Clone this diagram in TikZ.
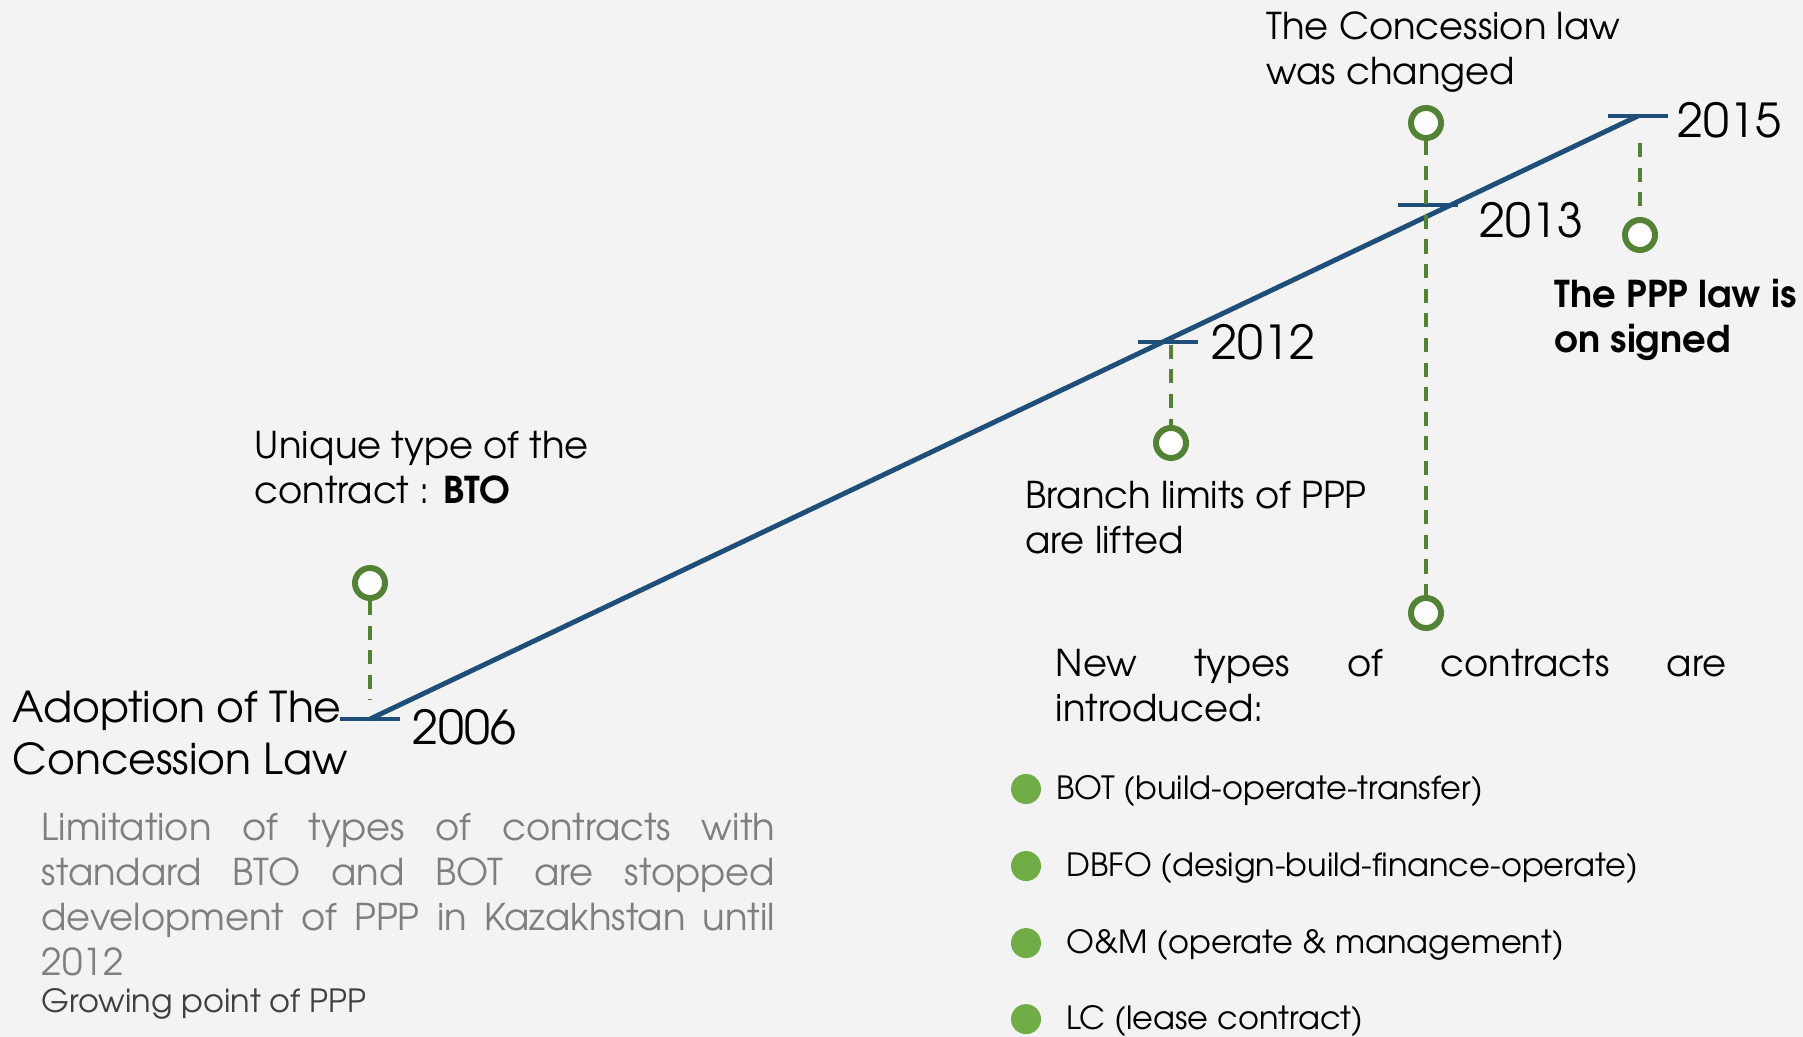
\documentclass[tikz,border=0pt]{standalone}
\usepackage{fontspec}
\setmainfont{TeX Gyre Adventor}
\usetikzlibrary{positioning}

\definecolor{paper}{HTML}{F3F3F3}
\definecolor{lineblue}{HTML}{1F4E79}
\definecolor{ringgreen}{HTML}{548235}
\definecolor{dotgreen}{HTML}{70AD47}
\definecolor{softgray}{HTML}{7F7F7F}
\definecolor{deepgray}{HTML}{404040}

\tikzset{
  ring/.style={circle, draw=ringgreen, line width=1.7pt, fill=white,
    minimum size=0.30cm, inner sep=0pt},
  dot/.style={circle, fill=dotgreen, minimum size=0.3cm, inner sep=0pt},
  lead/.style={ringgreen, line width=1.1pt, dash pattern=on 4pt off 3pt},
  tickmark/.style={rectangle, fill=lineblue, minimum width=0.6cm,
    minimum height=1.2pt, inner sep=0pt},
  year/.style={inner sep=0pt, font=\fontsize{13.3}{15}\selectfont},
  note/.style={inner sep=0pt, align=left, anchor=west,
    font=\fontsize{10.5}{12.8}\selectfont},
  item/.style={inner sep=0pt, font=\fontsize{9.1}{10}\selectfont},
}

\begin{document}
\begin{tikzpicture}[x=0.01cm, y=-0.01cm]
  \fill[paper] (0,0) rectangle (1803,1037);
  \useasboundingbox (0,0) rectangle (1803,1037);

  % milestones on the time line
  \coordinate (y2006) at (370,719);
  \coordinate (y2015) at (1638,116);
  \node[tickmark] (k2006) at (y2006) {};
  \node[tickmark] (k2012) at (1168,342) {};
  \node[tickmark] (k2013) at (1428,205) {};
  \node[tickmark] (k2015) at (y2015) {};

  \node[year, right=0.11cm of k2006, yshift=-0.08cm] (t2006) {2006};
  \node[year, right=0.12cm of k2012] (t2012) {2012};
  \node[year, right=0.2cm of k2013, yshift=-0.15cm] (t2013) {2013};
  \node[year, right=0.08cm of k2015, yshift=-0.04cm] (t2015) {2015};

  % rings and their dashed leads
  \node[ring] (r2006) at (370,583) {};
  \node[ring] (r2012) at (1171,443) {};
  \node[ring] (r2013a) at (1426,123) {};
  \node[ring] (r2013b) at (1426,613) {};
  \node[ring] (r2015) at (1640,235) {};
  \coordinate (c2006) at (370,700);
  \coordinate (c2015) at (1640,143);

  \draw[lineblue, line width=1.4pt] (y2006) -- (y2015);

  \draw[lead] (r2006) -- (c2006);
  \draw[lead] (k2012.south -| r2012) -- (r2012);
  \draw[lead] (r2013a) -- (r2013b);
  \draw[lead] (c2015) -- (r2015);

  % texts
  \node[note, font=\fontsize{12.1}{14.8}\selectfont] (adopt) at (12,733)
    {Adoption of The\\Concession Law};
  \node[note] (unique) at (254,468) {Unique type of the\\contract : \textbf{BTO}};
  \node[note, softgray, text width=7.33cm, align=justify] (limits) at (41,895)
    {Limitation of types of contracts with\linebreak standard BTO and BOT are
     stopped\linebreak development of PPP in Kazakhstan until\linebreak 2012};
  \node[item, deepgray, anchor=west] (grow) at (41,1004) {Growing point of PPP};
  \node[note] (branch) at (1025,518) {Branch limits of PPP\\are lifted};
  \node[note] (changed) at (1266,52) {The Concession law\\was changed};
  \node[note, font=\fontsize{10.5}{12.8}\selectfont\bfseries] (signed) at (1554,320)
    {The PPP law is\\on signed};
  \node[note, text width=6.7cm, align=justify] (newtypes) at (1055,686)
    {New types of contracts are\linebreak introduced:};

  % list of contract types
  \node[dot] (b1) at (1026,789) {};
  \node[dot, on grid, below=0.77cm of b1] (b2) {};
  \node[dot, on grid, below=0.77cm of b2] (b3) {};
  \node[dot, on grid, below=0.76cm of b3] (b4) {};
  \node[item, right=0.14cm of b1, yshift=-0.02cm] (i1) {BOT (build-operate-transfer)};
  \node[item, right=0.24cm of b2, yshift=-0.02cm] (i2) {DBFO (design-build-finance-operate)};
  \node[item, right=0.24cm of b3, yshift=-0.02cm] (i3) {O\&M (operate \& management)};
  \node[item, right=0.24cm of b4, yshift=-0.02cm] (i4) {LC (lease contract)};
\end{tikzpicture}
\end{document}
